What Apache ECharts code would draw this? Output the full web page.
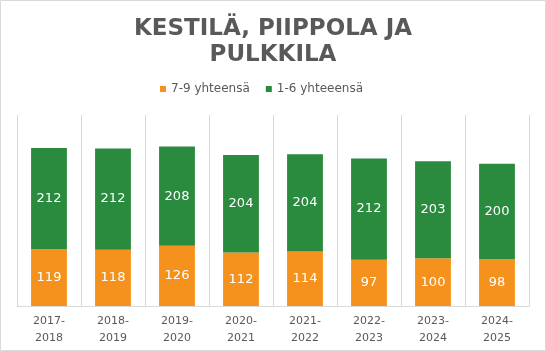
<!DOCTYPE html>
<html>
<head>
<meta charset="utf-8">
<script src="https://cdn.jsdelivr.net/npm/echarts@6/dist/echarts.min.js"></script>
<style>
  html, body { margin: 0; padding: 0; background: #ffffff; }
  #chart { width: 546px; height: 351px; }
</style>
</head>
<body>
<div id="chart"></div>
<script>
var categories = ["2017-\n2018", "2018-\n2019", "2019-\n2020", "2020-\n2021", "2021-\n2022", "2022-\n2023", "2023-\n2024", "2024-\n2025"];
var seriesNames = ["7-9 yhteensä", "1-6 yhteeensä"];
var grade79 = [119, 118, 126, 112, 114, 97, 100, 98];
var grade16 = [212, 212, 208, 204, 204, 212, 203, 200];

var chart = echarts.init(document.getElementById("chart"));
var font = "DejaVu Sans";

var option = {
  animation: false,
  textStyle: { fontFamily: font },
  title: {
    text: "KESTILÄ, PIIPPOLA JA\nPULKKILA",
    left: "center",
    top: 11,
    textStyle: {
      fontFamily: font,
      fontSize: 23,
      fontWeight: "bold",
      color: "#595959",
      lineHeight: 26
    }
  },
  legend: {
    top: 78,
    left: 155,
    itemWidth: 6,
    itemHeight: 6,
    itemGap: 16,
    icon: "rect",
    textStyle: { fontSize: 12, color: "#595959", fontFamily: font },
    data: seriesNames
  },
  grid: { left: 17, right: 17, top: 115, bottom: 45 },
  xAxis: {
    type: "category",
    data: categories,
    axisTick: { show: false },
    axisLine: { lineStyle: { color: "#d9d9d9" } },
    splitLine: { show: true, lineStyle: { color: "#d9d9d9" } },
    axisLabel: { color: "#595959", fontSize: 11, lineHeight: 17, margin: 7, fontFamily: font }
  },
  yAxis: {
    type: "value",
    min: 0,
    max: 400,
    show: false,
    splitLine: { show: false }
  },
  series: [
    {
      name: seriesNames[0],
      type: "bar",
      stack: "total",
      barCategoryGap: "44%",
      data: grade79,
      itemStyle: { color: "#F5921E" },
      label: { show: true, position: "inside", color: "#ffffff", fontSize: 13, fontFamily: font }
    },
    {
      name: seriesNames[1],
      type: "bar",
      stack: "total",
      data: grade16,
      itemStyle: { color: "#2A8A3E" },
      label: { show: true, position: "inside", color: "#ffffff", fontSize: 13, fontFamily: font }
    }
  ],
  graphic: [
    {
      type: "rect",
      shape: { x: 0.5, y: 0.5, width: 545, height: 350 },
      style: { fill: "none", stroke: "#d9d9d9", lineWidth: 1 },
      silent: true
    }
  ]
};

chart.setOption(option);
</script>
</body>
</html>
